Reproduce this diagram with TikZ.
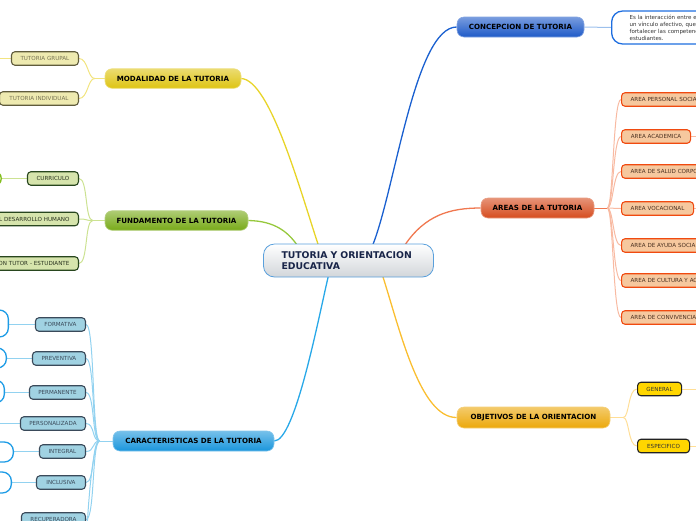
\documentclass[tikz,border=0pt]{standalone}
\usepackage{fontspec}
\setmainfont{DejaVu Sans}
\usetikzlibrary{backgrounds,calc}

\begin{document}
\begin{tikzpicture}[
    x=1pt, y=-1pt,
    font=\fontsize{5.6}{6.5}\selectfont,
    rootbox/.style={
        draw=rootline,
        top color=white,
        bottom color=rootgray,
        rounded corners=11pt,
        line width=0.8pt,
        minimum height=33pt,
        text width=134pt,
        inner xsep=18pt,
        align=left,
        text=rootink,
        font=\bfseries\fontsize{9.3}{10.7}\selectfont
    },
    mainbox/.style={
        draw=#1!55!white,
        top color=#1!60!white,
        bottom color=#1,
        rounded corners=7pt,
        minimum height=19.5pt,
        inner sep=1pt,
        line width=0.6pt,
        text=black,
        font=\bfseries\fontsize{7.1}{8}\selectfont
    },
    subbox/.style={
        rounded corners=3.5pt,
        minimum height=13.5pt,
        inner xsep=8pt,
        inner ysep=0pt,
        line width=1.1pt
    },
    modsub/.style={subbox, fill=modfill, draw=modedge, text=modink},
    fundsub/.style={subbox, fill=fundfill, draw=fundedge, text=fundink},
    carsub/.style={subbox, fill=carfill, draw=caredge, text=carink},
    areasub/.style={subbox, fill=areafill, draw=areaedge, text=areaink},
    objsub/.style={subbox, fill=objfill, draw=objedge, text=objink},
    cutleft/.style={text width=80pt, align=right, anchor=east, inner xsep=9pt},
    cutright/.style={text width=80pt, align=left, anchor=west, inner xsep=9pt},
    leafbox/.style={draw=#1, fill=white, rounded corners=9pt, line width=1.3pt, minimum width=60pt},
    trunk/.style={line width=1.3pt, draw=#1},
    twig/.style={line width=1pt, draw=#1}
]

\definecolor{rootline}{RGB}{90,160,220}
\definecolor{rootgray}{RGB}{210,214,218}
\definecolor{rootink}{RGB}{24,36,72}
\definecolor{modmain}{RGB}{222,196,18}
\definecolor{modfill}{RGB}{238,234,176}
\definecolor{modedge}{RGB}{96,92,60}
\definecolor{modink}{RGB}{120,116,84}
\definecolor{modline}{RGB}{242,228,128}
\definecolor{modtrunk}{RGB}{232,212,40}
\definecolor{fundmain}{RGB}{120,170,24}
\definecolor{fundfill}{RGB}{214,228,172}
\definecolor{fundedge}{RGB}{40,70,30}
\definecolor{fundink}{RGB}{40,50,30}
\definecolor{fundline}{RGB}{204,226,146}
\definecolor{fundtrunk}{RGB}{150,200,60}
\definecolor{fundleaf}{RGB}{130,190,30}
\definecolor{carmain}{RGB}{26,150,220}
\definecolor{carfill}{RGB}{160,210,226}
\definecolor{caredge}{RGB}{58,74,90}
\definecolor{carink}{RGB}{58,74,90}
\definecolor{carline}{RGB}{146,210,240}
\definecolor{cartrunk}{RGB}{40,168,232}
\definecolor{carleaf}{RGB}{30,156,230}
\definecolor{concmain}{RGB}{30,90,200}
\definecolor{conctrunk}{RGB}{26,96,208}
\definecolor{concline}{RGB}{156,192,236}
\definecolor{concleaf}{RGB}{30,110,224}
\definecolor{areamain}{RGB}{214,76,30}
\definecolor{areafill}{RGB}{246,200,158}
\definecolor{areaedge}{RGB}{240,74,16}
\definecolor{areaink}{RGB}{74,48,32}
\definecolor{arealine}{RGB}{248,186,162}
\definecolor{areatrunk}{RGB}{240,120,80}
\definecolor{objmain}{RGB}{236,168,10}
\definecolor{objfill}{RGB}{255,214,0}
\definecolor{objedge}{RGB}{34,34,34}
\definecolor{objink}{RGB}{51,51,51}
\definecolor{objline}{RGB}{255,222,150}
\definecolor{objtrunk}{RGB}{250,190,48}

\useasboundingbox (0,0) rectangle (696,520);

% centre topic
\node[rootbox] (root) at (348.5,260.5) {TUTORIA Y ORIENTACION\\EDUCATIVA};

% main branches
\node[mainbox=modmain, minimum width=136] (modalidad) at (173,78.5) {MODALIDAD DE LA TUTORIA};
\node[mainbox=fundmain, minimum width=143] (fundamento) at (176.5,220.5) {FUNDAMENTO DE LA TUTORIA};
\node[mainbox=carmain, minimum width=161, minimum height=20] (caract) at (193.5,441) {CARACTERISTICAS DE LA TUTORIA};
\node[mainbox=concmain, minimum width=127, minimum height=20] (concepcion) at (520.5,27) {CONCEPCION DE TUTORIA};
\node[mainbox=areamain, minimum width=113, minimum height=20] (areas) at (537.5,208) {AREAS DE LA TUTORIA};
\node[mainbox=objmain, minimum width=153, minimum height=21] (objetivos) at (533.5,417.5) {OBJETIVOS DE LA ORIENTACION};

% modalidad
\node[modsub, minimum width=67, anchor=east] (grupal) at (79,58.5) {TUTORIA GRUPAL};
\node[modsub, minimum width=79, anchor=east] (individual) at (79,98.5) {TUTORIA INDIVIDUAL};
\coordinate (grupalout) at (-20,58.5);

% fundamento
\node[fundsub, minimum width=51, anchor=east] (curriculo) at (79,178.5) {CURRICULO};
\node[fundsub, cutleft] (desarrollo) at (79,219) {L DESARROLLO HUMANO};
\node[fundsub, cutleft] (relacion) at (79,263.5) {ON TUTOR - ESTUDIANTE};
\node[leafbox=fundleaf, minimum height=17, anchor=east] (curleaf) at (2,178.5) {};

% caracteristicas
\node[carsub, minimum width=50, anchor=east] (formativa) at (86,324.5) {FORMATIVA};
\node[carsub, minimum width=53, anchor=east] (preventiva) at (86,358.5) {PREVENTIVA};
\node[carsub, minimum width=56, anchor=east] (permanente) at (86,392.5) {PERMANENTE};
\node[carsub, minimum width=65, anchor=east] (personal) at (86,423.5) {PERSONALIZADA};
\node[carsub, minimum width=46, anchor=east] (integral) at (86,451.5) {INTEGRAL};
\node[carsub, minimum width=49, anchor=east] (inclusiva) at (86,482.5) {INCLUSIVA};
\node[carsub, minimum width=64, anchor=east] (recuperadora) at (86,519.5) {RECUPERADORA};
\node[leafbox=carleaf, minimum height=27, anchor=east] (formleaf) at (9,323.5) {};
\node[leafbox=carleaf, minimum height=20, anchor=east] (prevleaf) at (7,358) {};
\node[leafbox=carleaf, minimum height=23, anchor=east] (permleaf) at (5,391.5) {};
\node[leafbox=carleaf, minimum height=20, anchor=east] (integleaf) at (14,452) {};
\node[leafbox=carleaf, minimum height=21, anchor=east] (inclleaf) at (12,482.5) {};
\coordinate (persout) at (-20,423.5);
\coordinate (carmore) at (86,560);

% concepcion
\node[leafbox=concleaf, anchor=west, minimum height=33, text width=120pt, align=left,
      inner xsep=18pt, rounded corners=11pt, text=objink, font=\fontsize{5.5}{7}\selectfont]
    (concnote) at (611,27.5) {Es la interacción entre e\\un vínculo afectivo, que\\fortalecer las competenc\\estudiantes.};

% areas
\node[areasub, cutright] (arpersonal) at (621,99.5) {AREA PERSONAL SOCIA};
\node[areasub, minimum width=69, anchor=west] (aracad) at (621,136.5) {AREA ACADEMICA};
\node[areasub, cutright] (arsalud) at (621,171.5) {AREA DE SALUD CORPO};
\node[areasub, minimum width=72, anchor=west] (arvoca) at (621,208.5) {AREA VOCACIONAL};
\node[areasub, cutright] (arayuda) at (621,245.5) {AREA DE AYUDA SOCIA};
\node[areasub, cutright] (arcultura) at (621,280.5) {AREA DE CULTURA Y AC};
\node[areasub, cutright] (arconviv) at (621,317.5) {AREA DE CONVIVENCIA};
\coordinate (acadout) at (720,136.5);
\coordinate (vocaout) at (720,208.5);

% objetivos
\node[objsub, minimum width=44, anchor=west] (general) at (637,389) {GENERAL};
\node[objsub, minimum width=52, anchor=west] (especifico) at (637,446) {ESPECIFICO};
\coordinate (genout) at (720,389);
\coordinate (espout) at (720,446);

\begin{pgfonlayer}{background}
% trunks from the centre
\draw[trunk=modtrunk] (modalidad.east) .. controls (270,80) and (300,190) .. ($(root.north)+(-30,2)$);
\draw[trunk=fundtrunk] (fundamento.east) .. controls (275,221) and (288,232) .. ($(root.north)+(-51,2)$);
\draw[trunk=cartrunk] (caract.east) .. controls (295,441) and (318,320) .. ($(root.south)+(-20,-2)$);
\draw[trunk=conctrunk] ($(root.north)+(24,2)$) .. controls (395,190) and (415,27) .. (concepcion.west);
\draw[trunk=areatrunk] ($(root.north)+(56,2)$) .. controls (425,215) and (450,208) .. (areas.west);
\draw[trunk=objtrunk] ($(root.south)+(34,-2)$) .. controls (400,330) and (420,418) .. (objetivos.west);

% modalidad
\coordinate (modhub) at ($(modalidad.west)+(-10,0)$);
\draw[twig=modline] (modalidad.west) -- (modhub);
\draw[twig=modline] (modhub) .. controls +(-7,0) and +(9,0) .. (grupal.east);
\draw[twig=modline] (modhub) .. controls +(-7,0) and +(9,0) .. (individual.east);
\draw[twig=modline] (grupal.west) -- (grupalout);

% fundamento
\coordinate (fundhub) at ($(fundamento.west)+(-12,0)$);
\draw[twig=fundline] (fundamento.west) -- (fundhub);
\draw[twig=fundline] (fundhub) .. controls +(-8,0) and +(9,0) .. (curriculo.east);
\draw[twig=fundline] (fundhub) .. controls +(-8,0) and +(9,0) .. (desarrollo.east);
\draw[twig=fundline] (fundhub) .. controls +(-8,0) and +(9,0) .. (relacion.east);
\draw[twig=fundline] (curriculo.west) -- (curleaf.east);

% caracteristicas
\coordinate (carhub) at ($(caract.west)+(-13,0)$);
\draw[twig=carline] (caract.west) -- (carhub);
\draw[twig=carline] (carhub) .. controls +(-8,0) and +(9,0) .. (formativa.east);
\draw[twig=carline] (carhub) .. controls +(-8,0) and +(9,0) .. (preventiva.east);
\draw[twig=carline] (carhub) .. controls +(-8,0) and +(9,0) .. (permanente.east);
\draw[twig=carline] (carhub) .. controls +(-8,0) and +(9,0) .. (personal.east);
\draw[twig=carline] (carhub) .. controls +(-8,0) and +(9,0) .. (integral.east);
\draw[twig=carline] (carhub) .. controls +(-8,0) and +(9,0) .. (inclusiva.east);
\draw[twig=carline] (carhub) .. controls +(-8,0) and +(9,0) .. (recuperadora.east);
\draw[twig=carline] (carhub) .. controls +(-8,0) and +(0,-30) .. (carmore);
\draw[twig=carline] (formativa.west) -- (formleaf.east |- formativa.west);
\draw[twig=carline] (preventiva.west) -- (prevleaf.east |- preventiva.west);
\draw[twig=carline] (permanente.west) -- (permleaf.east |- permanente.west);
\draw[twig=carline] (personal.west) -- (persout);
\draw[twig=carline] (integral.west) -- (integleaf.east |- integral.west);
\draw[twig=carline] (inclusiva.west) -- (inclleaf.east);

% concepcion
\draw[twig=concline] (concepcion.east) -- (concnote.west);

% areas
\coordinate (areahub) at ($(areas.east)+(13,0)$);
\draw[twig=areatrunk] (areas.east) -- (areahub);
\draw[twig=arealine] (areahub) .. controls +(6,0) and +(-8,0) .. (arpersonal.west);
\draw[twig=arealine] (areahub) .. controls +(6,0) and +(-8,0) .. (aracad.west);
\draw[twig=arealine] (areahub) .. controls +(6,0) and +(-8,0) .. (arsalud.west);
\draw[twig=arealine] (areahub) .. controls +(6,0) and +(-8,0) .. (arvoca.west);
\draw[twig=arealine] (areahub) .. controls +(6,0) and +(-8,0) .. (arayuda.west);
\draw[twig=arealine] (areahub) .. controls +(6,0) and +(-8,0) .. (arcultura.west);
\draw[twig=arealine] (areahub) .. controls +(6,0) and +(-8,0) .. (arconviv.west);
\draw[twig=arealine] (aracad.east) -- (acadout);
\draw[twig=arealine] (arvoca.east) -- (vocaout);

% objetivos
\coordinate (objhub) at ($(objetivos.east)+(13,0)$);
\draw[twig=objline] (objetivos.east) -- (objhub);
\draw[twig=objline] (objhub) .. controls +(6,0) and +(-9,0) .. (general.west);
\draw[twig=objline] (objhub) .. controls +(6,0) and +(-9,0) .. (especifico.west);
\draw[twig=objline] (general.east) -- (genout);
\draw[twig=objline] (especifico.east) -- (espout);
\end{pgfonlayer}

\end{tikzpicture}
\end{document}
